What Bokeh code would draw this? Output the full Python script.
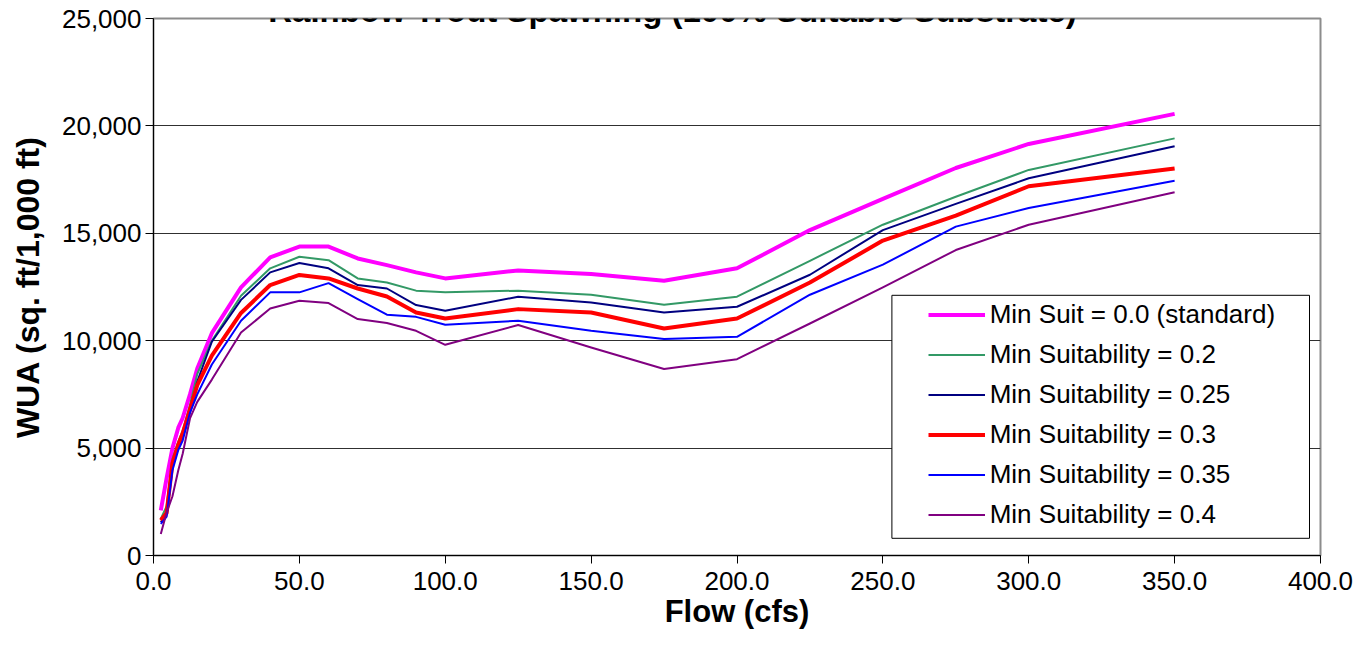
from bokeh.plotting import figure
from bokeh.models import (Legend, LegendItem, FixedTicker, NumeralTickFormatter,
                          Range1d, Label, BoxAnnotation)
from bokeh.embed import file_html
from bokeh.resources import INLINE

# ---------------- data ----------------
flow = [2.5, 4.5, 6.5, 8.5, 10, 12.5, 15, 20, 30, 40, 50, 60, 70, 80, 90,
        100, 125, 150, 175, 200, 225, 250, 275, 300, 350]

min_suit_00 = [2100, 3600, 5000, 5950, 6400, 7500, 8700, 10350, 12480, 13880,
               14380, 14380, 13830, 13520, 13180, 12900, 13270, 13100, 12790,
               13370, 15150, 16600, 18040, 19160, 20560]
min_suit_020 = [1700, 2300, 4500, 5300, 5800, 7000, 8450, 10000, 12090, 13370,
                13910, 13750, 12900, 12710, 12330, 12250, 12330, 12140, 11670,
                12050, 13720, 15400, 16700, 17950, 19420]
min_suit_025 = [1550, 1900, 4140, 5090, 5500, 6720, 8100, 9950, 11900, 13180,
                13620, 13370, 12590, 12430, 11660, 11390, 12050, 11780, 11310,
                11580, 13070, 15150, 16370, 17560, 19050]
min_suit_030 = [1640, 1980, 4300, 5170, 5690, 6810, 7930, 9300, 11290, 12590,
                13060, 12900, 12430, 12060, 11310, 11030, 11470, 11310, 10570,
                11030, 12710, 14660, 15820, 17190, 18020]
min_suit_035 = [1470, 1810, 3970, 4910, 5350, 6640, 7500, 8890, 10930, 12250,
                12250, 12680, 11940, 11210, 11110, 10740, 10930, 10460, 10080,
                10180, 12140, 13540, 15310, 16180, 17450]
min_suit_040 = [1000, 2000, 2760, 3970, 4740, 6380, 7150, 8190, 10380, 11500,
                11860, 11750, 11010, 10820, 10460, 9810, 10730, 9680, 8680,
                9140, 10800, 12480, 14220, 15400, 16910]

series_labels = ["Min Suit = 0.0 (standard)", "Min Suitability = 0.2",
                 "Min Suitability = 0.25", "Min Suitability = 0.3",
                 "Min Suitability = 0.35", "Min Suitability = 0.4"]
x_ticks = [0, 50, 100, 150, 200, 250, 300, 350, 400]
y_ticks = [0, 5000, 10000, 15000, 20000, 25000]

title_text = "Rainbow Trout Spawning (100% Suitable Substrate)"
x_label = "Flow (cfs)"
y_label = "WUA (sq. ft/1,000 ft)"

# ---------------- style ----------------
colors = ["#FF00FF", "#339966", "#000080", "#FF0000", "#0000FF", "#800080"]
widths = [4, 2, 2, 4, 2, 2]
FONT = "Liberation Sans"

FW, FH = 1167, 537
X0, X1, Y0, Y1 = 0, 400, 0, 25000

p = figure(frame_width=FW, frame_height=FH,
           min_border_left=153, min_border_right=33,
           min_border_top=18, min_border_bottom=75,
           x_range=Range1d(X0, X1), y_range=Range1d(Y0, Y1),
           output_backend="svg", toolbar_location=None)
p.background_fill_color = "white"
p.border_fill_color = "white"
p.outline_line_color = "#8c8c8c"
p.outline_line_width = 2

all_series = [min_suit_00, min_suit_020, min_suit_025, min_suit_030,
              min_suit_035, min_suit_040]
renderers = []
for ys, c, w in zip(all_series, colors, widths):
    r = p.line(flow, ys, line_color=c, line_width=w, line_join="round")
    renderers.append(r)

# axes
p.xaxis.ticker = FixedTicker(ticks=x_ticks)
p.yaxis.ticker = FixedTicker(ticks=y_ticks)
p.xaxis.formatter = NumeralTickFormatter(format="0.0")
p.yaxis.formatter = NumeralTickFormatter(format="0,0")
for ax in (p.xaxis[0], p.yaxis[0]):
    ax.axis_line_color = "black"
    ax.axis_line_width = 1
    ax.major_tick_line_color = "black"
    ax.major_tick_out = 8
    ax.major_tick_in = 0
    ax.minor_tick_out = 0
    ax.minor_tick_in = 0
    ax.major_label_text_font = FONT
    ax.major_label_text_font_size = "26px"
    ax.major_label_text_color = "black"
    ax.axis_label_text_font = FONT
    ax.axis_label_text_font_style = "bold"
    ax.axis_label_text_color = "black"
p.xaxis.axis_label = x_label
p.yaxis.axis_label = y_label
p.xaxis.major_label_standoff = 8
p.yaxis.major_label_standoff = 4
p.xaxis.axis_label_text_font_size = "31px"
p.yaxis.axis_label_text_font_size = "32px"
p.xaxis.axis_label_standoff = 1
p.yaxis.axis_label_standoff = 13

p.xgrid.visible = False
p.ygrid.grid_line_color = "#303030"
p.ygrid.grid_line_width = 1

# legend frame (pixel offsets inside plot frame converted to data units)
px_x = (X1 - X0) / FW
px_y = (Y1 - Y0) / FH
box = BoxAnnotation(left=X0 + 738.4 * px_x, right=X0 + 1156.0 * px_x,
                    bottom=Y0 + 17.2 * px_y, top=Y0 + 260.2 * px_y,
                    fill_color="white", fill_alpha=1.0,
                    line_color="black", line_width=1, line_alpha=1.0)
p.add_layout(box)

legend = Legend(items=[LegendItem(label=l, renderers=[r])
                       for l, r in zip(series_labels, renderers)],
                location=(774.7, 22.0), padding=0, margin=0, spacing=3,
                glyph_width=57, glyph_height=37, label_height=37,
                label_standoff=5, label_text_font=FONT,
                label_text_font_size="26px", label_text_color="black",
                border_line_alpha=0, background_fill_alpha=0)
p.add_layout(legend, "center")

title = Label(x=X0 + 519 * px_x, y=Y1 + 8 * px_y, text=title_text,
              text_font=FONT, text_font_style="bold", text_font_size="33px",
              text_align="center", text_baseline="alphabetic",
              text_color="black")
p.add_layout(title)

open("out.html", "w").write(file_html(p, INLINE))
